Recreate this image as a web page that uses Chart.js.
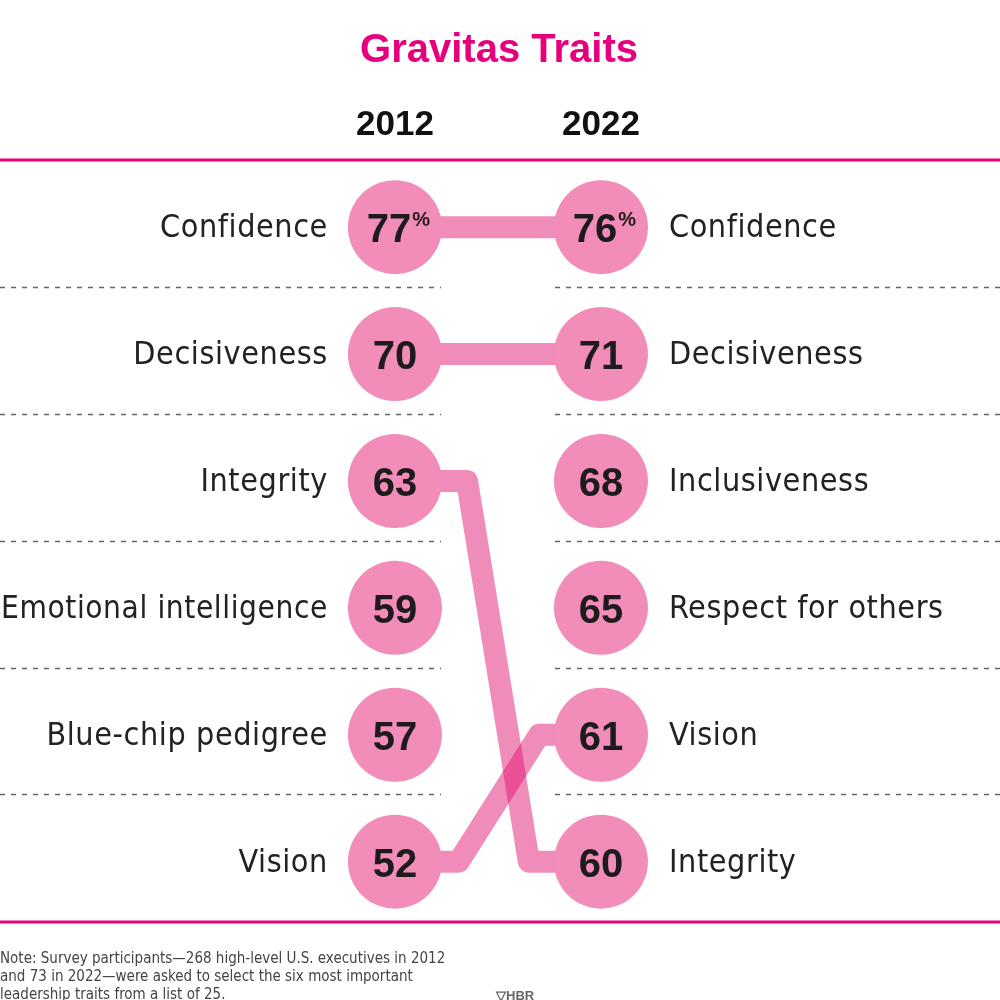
<!DOCTYPE html>
<html>
<head>
<meta charset="utf-8">
<script src="https://cdn.jsdelivr.net/npm/chart.js@4.4.0/dist/chart.umd.min.js"></script>
<style>
  html, body { margin: 0; padding: 0; background: #fff; }
  canvas { display: block; }
</style>
</head>
<body>
<canvas id="chart" width="1000" height="1000"></canvas>
<script>
// data
const years = [2012, 2022];
const traits2012 = ['Confidence', 'Decisiveness', 'Integrity', 'Emotional intelligence', 'Blue-chip pedigree', 'Vision'];
const values2012 = [77, 70, 63, 59, 57, 52];
const traits2022 = ['Confidence', 'Decisiveness', 'Inclusiveness', 'Respect for others', 'Vision', 'Integrity'];
const values2022 = [76, 71, 68, 65, 61, 60];
const noteLines = [
  'Note: Survey participants\u2014268 high-level U.S. executives in 2012',
  'and 73 in 2022\u2014were asked to select the six most important',
  'leadership traits from a list of 25.'
];

const MAGENTA = '#e6007e';
const PINK = '#f28cb9';
const LINK = 'rgba(224, 15, 109, 0.48)';
const LABEL_FONT = '"DejaVu Sans Condensed", "Liberation Sans", sans-serif';
const BOLD_FONT = '"Liberation Sans", Arial, sans-serif';

// where the bends of the crossing links sit (years offset from each end)
const bends = { Integrity: [3.5, 6.5], Vision: [3.1, 7.0] };

const rank = (i) => i + 1;

// circles
const dots2012 = values2012.map((v, i) => ({ x: years[0], y: rank(i) }));
const dots2022 = values2022.map((v, i) => ({ x: years[1], y: rank(i) }));

// connecting links for traits that appear in both years
const links = [];
traits2012.forEach((t, i) => {
  const j = traits2022.indexOf(t);
  if (j < 0) return;
  let pts;
  if (i === j) {
    pts = [{ x: years[0], y: rank(i) }, { x: years[1], y: rank(j) }];
  } else {
    const b = bends[t] || [3.5, 6.5];
    pts = [
      { x: years[0], y: rank(i) },
      { x: years[0] + b[0], y: rank(i) },
      { x: years[0] + b[1], y: rank(j) },
      { x: years[1], y: rank(j) }
    ];
  }
  links.push({
    label: t,
    data: pts,
    showLine: true,
    borderColor: LINK,
    borderWidth: 22,
    borderJoinStyle: 'round',
    borderCapStyle: 'butt',
    pointRadius: 0,
    fill: false,
    order: 2
  });
});

const textPlugin = {
  id: 'textPlugin',
  afterDraw(chart) {
    const ctx = chart.ctx;
    const xs = chart.scales.x;
    const ys = chart.scales.y;
    ctx.save();

    // title
    ctx.fillStyle = MAGENTA;
    ctx.font = 'bold 40px ' + BOLD_FONT;
    ctx.textAlign = 'center';
    ctx.textBaseline = 'alphabetic';
    ctx.fillText('Gravitas Traits', 499, 62);

    // year headers
    ctx.fillStyle = '#111';
    ctx.font = 'bold 35px ' + BOLD_FONT;
    years.forEach((yr) => {
      ctx.fillText(String(yr), xs.getPixelForValue(yr), 135);
    });

    // magenta rules
    ctx.strokeStyle = MAGENTA;
    ctx.lineWidth = 3;
    [160, 922].forEach((y) => {
      ctx.beginPath();
      ctx.moveTo(0, y);
      ctx.lineTo(1000, y);
      ctx.stroke();
    });

    // dashed separators between rows
    ctx.strokeStyle = '#666';
    ctx.lineWidth = 1.5;
    ctx.setLineDash([5, 6]);
    for (let i = 1; i < traits2012.length; i++) {
      const y = Math.round(ys.getPixelForValue(i + 0.47)) + 0.5;
      ctx.beginPath();
      ctx.moveTo(0, y);
      ctx.lineTo(441, y);
      ctx.moveTo(555, y);
      ctx.lineTo(1000, y);
      ctx.stroke();
    }
    ctx.setLineDash([]);

    // trait labels
    ctx.fillStyle = '#222';
    ctx.font = '32px ' + LABEL_FONT;
    ctx.letterSpacing = '0.6px';
    ctx.textBaseline = 'middle';
    ctx.textAlign = 'right';
    traits2012.forEach((t, i) => {
      const x = xs.getPixelForValue(years[0]) - 67;
      const y = ys.getPixelForValue(rank(i)) + 2;
      const w = ctx.measureText(t).width;
      // squeeze a label that would run off the left edge
      const k = w > x - 1 ? (x - 1) / w : 1;
      ctx.save();
      ctx.translate(x, y);
      ctx.scale(k, 1);
      ctx.fillText(t, 0, 0);
      ctx.restore();
    });
    ctx.textAlign = 'left';
    traits2022.forEach((t, i) => {
      ctx.fillText(t, xs.getPixelForValue(years[1]) + 68, ys.getPixelForValue(rank(i)) + 2);
    });
    ctx.letterSpacing = '0px';

    // values inside circles
    const drawValue = (v, x, y, pct) => {
      ctx.fillStyle = '#1e1b1c';
      ctx.textBaseline = 'alphabetic';
      ctx.font = 'bold 40px ' + BOLD_FONT;
      const s = String(v);
      if (!pct) {
        ctx.textAlign = 'center';
        ctx.fillText(s, x, y + 15);
        return;
      }
      const w = ctx.measureText(s).width;
      ctx.font = 'bold 20px ' + BOLD_FONT;
      const pw = ctx.measureText('%').width;
      const left = x - (w + pw) / 2 + 3;
      ctx.textAlign = 'left';
      ctx.font = 'bold 40px ' + BOLD_FONT;
      ctx.fillText(s, left, y + 15);
      ctx.font = 'bold 20px ' + BOLD_FONT;
      ctx.fillText('%', left + w + 1, y - 1);
    };
    values2012.forEach((v, i) => drawValue(v, xs.getPixelForValue(years[0]), ys.getPixelForValue(rank(i)), i === 0));
    values2022.forEach((v, i) => drawValue(v, xs.getPixelForValue(years[1]), ys.getPixelForValue(rank(i)), i === 0));

    // footnote
    ctx.fillStyle = '#444';
    ctx.font = '15px ' + LABEL_FONT;
    ctx.textAlign = 'left';
    noteLines.forEach((line, i) => {
      ctx.fillText(line, 0, 963 + i * 18);
    });
    ctx.fillStyle = '#666';
    ctx.font = 'bold 13px ' + BOLD_FONT;
    ctx.fillText('\u25BDHBR', 496, 1000);

    ctx.restore();
  }
};

new Chart(document.getElementById('chart'), {
  type: 'scatter',
  data: {
    datasets: [
      {
        label: '2012',
        data: dots2012,
        pointRadius: 47,
        pointHoverRadius: 47,
        pointBackgroundColor: PINK,
        pointBorderWidth: 0,
        clip: false,
        order: 0
      },
      {
        label: '2022',
        data: dots2022,
        pointRadius: 47,
        pointHoverRadius: 47,
        pointBackgroundColor: PINK,
        pointBorderWidth: 0,
        clip: false,
        order: 0
      },
      ...links
    ]
  },
  options: {
    responsive: false,
    animation: false,
    layout: { padding: 0, autoPadding: false },
    scales: {
      x: { type: 'linear', display: false, min: 1992.83, max: 2041.37 },
      y: { type: 'linear', display: false, reverse: true, min: -0.79, max: 7.09 }
    },
    plugins: {
      legend: { display: false },
      tooltip: { enabled: false }
    },
    events: []
  },
  plugins: [textPlugin]
});
</script>
</body>
</html>
